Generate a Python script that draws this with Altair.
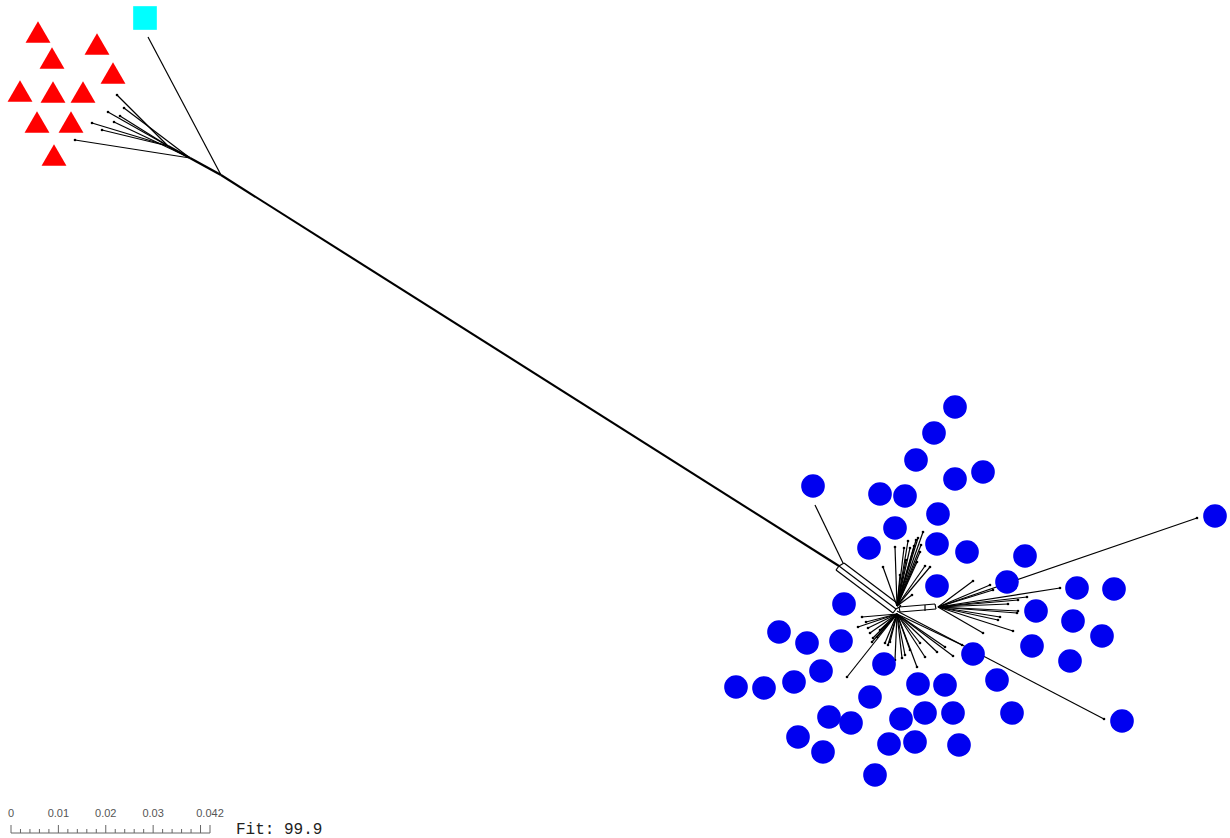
import altair as alt
import pandas as pd

# ---- taxa (layout coordinates of the split network, origin at top-left) ----
blue_x = [955, 934, 916, 955, 983, 813, 880, 905, 938, 895, 869, 937, 967, 937,
          1215, 1025, 1007, 1077, 1114, 1036, 1073, 1102, 1032, 1070, 973, 997,
          1012, 1122, 844, 779, 807, 841, 884, 821, 736, 764, 794, 918, 945, 870,
          829, 851, 901, 925, 953, 798, 823, 889, 915, 959, 875]
blue_y = [407, 433, 460, 479, 472, 486, 494, 496, 514, 528, 548, 544, 552, 586,
          516, 556, 582, 588, 589, 611, 621, 636, 646, 661, 654, 680,
          713, 721, 604, 632, 643, 641, 664, 671, 687, 688, 682, 684, 685, 697,
          717, 723, 719, 713, 713, 737, 752, 744, 742, 745, 775]

red_x = [38, 97, 52, 113, 20, 53, 83, 37, 71, 54]
red_y = [32, 44, 58, 73, 91, 92, 92, 122, 122, 155]

cyan_x = [145]
cyan_y = [18]

# ---- internal nodes of the network ----
hub_left = (168, 146)      # fan of the red group
hub_left2 = (190, 158)     # second fan node further along the trunk
hub_trunk = (221, 175)     # where the cyan lineage joins
hub_up = (897, 606)        # upper part of the blue star
hub_down = (897, 614)      # lower part of the blue star
hub_mid = (897, 611)
hub_right = (938, 607)     # right-hand fan of the blue group

# ---- pendant edge tips, grouped by the node they hang from ----
left_tips_x = [117, 108, 92, 102, 120]
left_tips_y = [95, 112, 123, 130, 116]
left2_tips_x = [124, 114, 75]
left2_tips_y = [108, 122, 140]

up_tips_x = [923, 918, 914, 910, 904, 895, 883, 917, 925, 930, 912, 906, 900, 920, 908, 916, 921]
up_tips_y = [532, 538, 546, 548, 548, 547, 567, 562, 566, 567, 595, 560, 575, 552, 541, 540, 545]

down_tips_x = [862, 858, 870, 873, 877, 872, 885, 888, 890, 847, 902, 917, 910, 920,
               925, 937, 945, 953, 962, 880, 866, 895, 905, 868]
down_tips_y = [617, 627, 633, 638, 637, 642, 643, 645, 642, 677, 658, 667, 650, 643,
               657, 652, 647, 656, 645, 630, 622, 660, 655, 628]

right_tips_x = [973, 990, 993, 1027, 1018, 1060, 1018, 1000, 998, 1013, 983, 1017, 1008, 1197]
right_tips_y = [581, 585, 590, 597, 600, 588, 611, 617, 620, 631, 633, 613, 604, 518]

mid_tips_x = [1104]
mid_tips_y = [719]

# ---- internal (split) edges: start x, start y, end x, end y ----
split_x1 = [168, 190, 221, 148, 815, 839, 844, 836, 844, 839, 901, 896, 899, 900, 935, 899, 925]
split_y1 = [146, 158, 175, 37, 505, 566, 563, 570, 563, 566, 606, 609, 607, 612, 604, 607, 605]
split_x2 = [190, 221, 839, 221, 843, 896, 901, 893, 839, 836, 896, 893, 935, 936, 936, 900, 925]
split_y2 = [158, 175, 566, 175, 563, 609, 606, 613, 566, 570, 609, 613, 604, 609, 609, 612, 611]
split_w = [2.0, 2.4, 2.1, 1.2, 1.2, 1.2, 1.2, 1.2, 1.2, 1.2, 1.2, 1.2, 1.2, 1.2, 1.2, 1.2, 1.2]

# ---- scale bar ----
bar_ticks = [0.0, 0.002, 0.004, 0.006, 0.008, 0.010, 0.012, 0.014, 0.016, 0.018, 0.020,
             0.022, 0.024, 0.026, 0.028, 0.030, 0.032, 0.034, 0.036, 0.038, 0.040, 0.042]
bar_major = [0.0, 0.010, 0.020, 0.030, 0.040, 0.042]
bar_labels = ["0", "0.01", "0.02", "0.03", "0.042"]
bar_label_pos = [0.0, 0.010, 0.020, 0.030, 0.042]
fit_text = "Fit: 99.9"

# ---- tables ----
rows = []
for hub, xs, ys in [(hub_left, left_tips_x, left_tips_y),
                    (hub_left2, left2_tips_x, left2_tips_y),
                    (hub_up, up_tips_x, up_tips_y),
                    (hub_down, down_tips_x, down_tips_y),
                    (hub_right, right_tips_x, right_tips_y),
                    (hub_mid, mid_tips_x, mid_tips_y)]:
    for tx, ty in zip(xs, ys):
        rows.append({"x": hub[0], "y": hub[1], "x2": tx, "y2": ty, "w": 1.2})
pendant = pd.DataFrame(rows)
splits = pd.DataFrame({"x": split_x1, "y": split_y1, "x2": split_x2, "y2": split_y2, "w": split_w})
edges = pd.concat([splits, pendant], ignore_index=True)
tips = pendant[["x2", "y2"]].rename(columns={"x2": "x", "y2": "y"})

blue = pd.DataFrame({"x": blue_x, "y": blue_y})
red = pd.DataFrame({"x": red_x, "y": red_y})
cyan = pd.DataFrame({"x": cyan_x, "y": cyan_y})

W, H = 1230, 838
xs = alt.Scale(domain=[0, W], nice=False, zero=False)
ys = alt.Scale(domain=[0, H], nice=False, zero=False, reverse=True)
X = lambda f="x": alt.X(f, type="quantitative", scale=xs, axis=None)
Y = lambda f="y": alt.Y(f, type="quantitative", scale=ys, axis=None)

edge_layer = alt.Chart(edges).mark_rule(color="black").encode(
    x=X(), y=Y(), x2="x2:Q", y2="y2:Q",
    strokeWidth=alt.StrokeWidth("w:Q", scale=None),
)
tip_layer = alt.Chart(tips).mark_point(filled=True, color="black", size=7, opacity=1).encode(
    x=X(), y=Y()
)
red_layer = alt.Chart(red).mark_point(shape="triangle-up", filled=True, color="#ff0000",
                                      size=620, opacity=1).encode(x=X(), y=Y())
cyan_layer = alt.Chart(cyan).mark_point(shape="square", filled=True, color="#00ffff",
                                        size=560, opacity=1).encode(x=X(), y=Y())
blue_layer = alt.Chart(blue).mark_point(shape="circle", filled=True, color="#0000f0",
                                        size=560, opacity=1).encode(x=X(), y=Y())

network = alt.layer(edge_layer, tip_layer, red_layer, cyan_layer, blue_layer)

# scale bar drawn on its own distance scale
bs = alt.Scale(domain=[0, 0.042], range=[11, 210], nice=False, zero=False)
ruler_df = pd.DataFrame({"v": bar_ticks})
ruler_df["major"] = ruler_df["v"].isin(bar_major)
ticks_minor = alt.Chart(ruler_df[~ruler_df["major"]]).mark_rule(color="#666", strokeWidth=1).encode(
    x=alt.X("v:Q", scale=bs, axis=None), y=alt.value(833), y2=alt.value(829))
ticks_major = alt.Chart(ruler_df[ruler_df["major"]]).mark_rule(color="#666", strokeWidth=1).encode(
    x=alt.X("v:Q", scale=bs, axis=None), y=alt.value(833), y2=alt.value(825))
baseline = alt.Chart(pd.DataFrame({"a": [0.0], "b": [0.042]})).mark_rule(color="#666", strokeWidth=1).encode(
    x=alt.X("a:Q", scale=bs, axis=None), x2="b:Q", y=alt.value(833))
labels = alt.Chart(pd.DataFrame({"v": bar_label_pos, "t": bar_labels})).mark_text(
    font="Liberation Sans", fontSize=11, color="#555", baseline="alphabetic", align="center"
).encode(x=alt.X("v:Q", scale=bs, axis=None), y=alt.value(817), text="t:N")
fit = alt.Chart(pd.DataFrame({"t": [fit_text]})).mark_text(
    font="Liberation Mono", fontSize=16, color="#222", align="left", baseline="middle"
).encode(x=alt.value(236), y=alt.value(829), text="t:N")

scalebar = alt.layer(baseline, ticks_minor, ticks_major, labels, fit)

chart = alt.layer(network, scalebar).resolve_scale(x="independent", y="independent").properties(
    width=W, height=H, padding=0, autosize=alt.AutoSizeParams(type="none"),
    background="white",
).configure_view(stroke=None)

chart.save("out.html", embed_options={"renderer": "svg", "actions": False})
